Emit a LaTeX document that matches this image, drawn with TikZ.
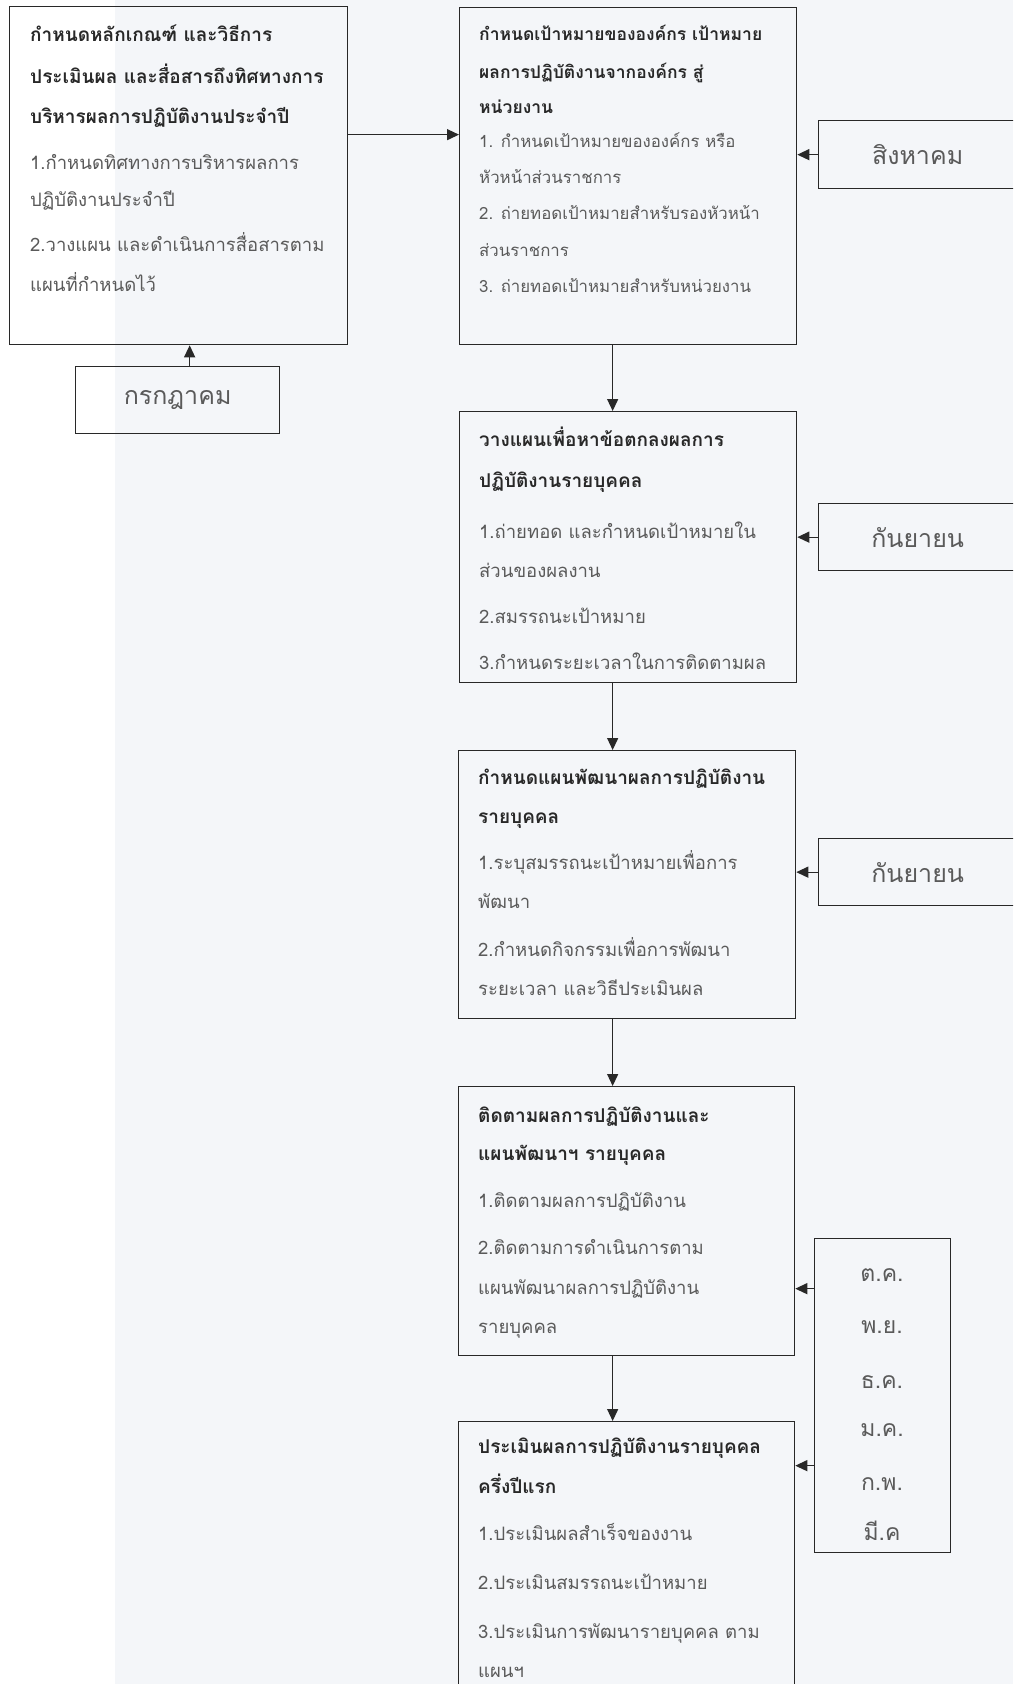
\documentclass[tikz,border=0pt]{standalone}
\usepackage{fontspec}
\newfontfamily\thai[Script=Thai]{Loma}
\usetikzlibrary{arrows.meta}
\definecolor{bgr}{RGB}{244,246,249}
\definecolor{linec}{RGB}{40,40,40}
\definecolor{ttlc}{RGB}{40,40,40}
\definecolor{itmc}{RGB}{90,90,90}
\begin{document}
\begin{tikzpicture}[x=1pt,y=-1pt,
  box/.style={draw=linec, line width=1.3pt, inner sep=0pt, anchor=north west},
  lbl/.style={box, font=\thai\fontsize{25}{30}\selectfont, text=itmc},
  ttl/.style={anchor=base west, inner sep=0pt, font=\thai\bfseries\fontsize{19}{22}\selectfont, text=ttlc},
  ttls/.style={ttl, font=\thai\bfseries\fontsize{17.5}{22}\selectfont},
  itm/.style={anchor=base west, inner sep=0pt, font=\thai\fontsize{18.5}{22}\selectfont, text=itmc},
  itms/.style={itm, font=\thai\fontsize{16.8}{20}\selectfont},
  mon/.style={anchor=base, inner sep=0pt, font=\thai\fontsize{23}{28}\selectfont, text=itmc},
  arr/.style={draw=linec, line width=1.3pt, -{Triangle[length=12pt,width=11pt]}}]
\useasboundingbox (0,0) rectangle (1013,1684);
\clip (0,0) rectangle (1013,1684);
\fill[white] (0,0) rectangle (1013,1684);
\fill[bgr] (115,0) rectangle (1013,1684);

% boxes
\node[box, minimum width=338pt, minimum height=338pt] (b1) at (9,6) {};
\node[box, minimum width=337pt, minimum height=337pt] (b2) at (459,7) {};
\node[box, minimum width=337pt, minimum height=271pt] (b3) at (459,411) {};
\node[box, minimum width=337pt, minimum height=268pt] (b4) at (458,750) {};
\node[box, minimum width=336pt, minimum height=269pt] (b5) at (458,1086) {};
\node[box, minimum width=336pt, minimum height=300pt] (b6) at (458,1421) {};
\node[lbl, minimum width=204pt, minimum height=67pt] (l1) at (75,366) {กรกฎาคม};
\node[lbl, minimum width=198pt, minimum height=68pt] (l2) at (818,120) {สิงหาคม};
\node[lbl, minimum width=198pt, minimum height=67pt] (l3) at (818,503) {กันยายน};
\node[lbl, minimum width=198pt, minimum height=67pt] (l4) at (818,838) {กันยายน};
\node[box, minimum width=136pt, minimum height=314pt] (m) at (814,1238) {};

% box 1
\foreach \yy/\txt [count=\i] in {35/กำหนดหลักเกณฑ์ และวิธีการ,77/ประเมินผล และสื่อสารถึงทิศทางการ,117/บริหารผลการปฏิบัติงานประจำปี}
  \node[ttl] (t1-\i) at (30,\yy+6) {\txt};
\foreach \yy/\txt [count=\i] in {163/1.กำหนดทิศทางการบริหารผลการ,200/ปฏิบัติงานประจำปี,245/2.วางแผน และดำเนินการสื่อสารตาม,285/แผนที่กำหนดไว้}
  \node[itm] (i1-\i) at (30,\yy+6) {\txt};

% box 2
\foreach \yy/\txt [count=\i] in {34/กำหนดเป้าหมายขององค์กร เป้าหมาย,72/ผลการปฏิบัติงานจากองค์กร สู่,107/หน่วยงาน}
  \node[ttls] (t2-\i) at (479,\yy+6) {\txt};
\foreach \yy/\txt [count=\i] in {142/1. กำหนดเป้าหมายขององค์กร หรือ,178/หัวหน้าส่วนราชการ,214/2. ถ่ายทอดเป้าหมายสำหรับรองหัวหน้า,251/ส่วนราชการ,287/3. ถ่ายทอดเป้าหมายสำหรับหน่วยงาน}
  \node[itms] (i2-\i) at (479,\yy+5.5) {\txt};

% box 3
\foreach \yy/\txt [count=\i] in {440/วางแผนเพื่อหาข้อตกลงผลการ,481/ปฏิบัติงานรายบุคคล}
  \node[ttl] (t3-\i) at (479,\yy+6) {\txt};
\foreach \yy/\txt [count=\i] in {532/1.ถ่ายทอด และกำหนดเป้าหมายใน,571/ส่วนของผลงาน,617/2.สมรรถนะเป้าหมาย,663/3.กำหนดระยะเวลาในการติดตามผล}
  \node[itm] (i3-\i) at (479,\yy+6) {\txt};

% box 4
\foreach \yy/\txt [count=\i] in {778/กำหนดแผนพัฒนาผลการปฏิบัติงาน,817/รายบุคคล}
  \node[ttl] (t4-\i) at (478,\yy+6) {\txt};
\foreach \yy/\txt [count=\i] in {863/1.ระบุสมรรถนะเป้าหมายเพื่อการ,902/พัฒนา,950/2.กำหนดกิจกรรมเพื่อการพัฒนา,989/ระยะเวลา และวิธีประเมินผล}
  \node[itm] (i4-\i) at (478,\yy+6) {\txt};

% box 5
\foreach \yy/\txt [count=\i] in {1116/ติดตามผลการปฏิบัติงานและ,1154/แผนพัฒนาฯ รายบุคคล}
  \node[ttl] (t5-\i) at (478,\yy+6) {\txt};
\foreach \yy/\txt [count=\i] in {1201/1.ติดตามผลการปฏิบัติงาน,1248/2.ติดตามการดำเนินการตาม,1288/แผนพัฒนาผลการปฏิบัติงาน,1327/รายบุคคล}
  \node[itm] (i5-\i) at (478,\yy+6) {\txt};

% box 6
\foreach \yy/\txt [count=\i] in {1447/ประเมินผลการปฏิบัติงานรายบุคคล,1487/ครึ่งปีแรก}
  \node[ttl] (t6-\i) at (478,\yy+6) {\txt};
\foreach \yy/\txt [count=\i] in {1534/1.ประเมินผลสำเร็จของงาน,1583/2.ประเมินสมรรถนะเป้าหมาย,1632/3.ประเมินการพัฒนารายบุคคล ตาม,1671/แผนฯ}
  \node[itm] (i6-\i) at (478,\yy+6) {\txt};

% months
\foreach \yy/\txt [count=\i] in {1273/ต.ค.,1325/พ.ย.,1380/ธ.ค.,1428/ม.ค.,1482/ก.พ.,1532/มี.ค}
  \node[mon] (m-\i) at (882,\yy+8) {\txt};

% connectors
\draw[arr] ([yshift=41pt]b1.east) -- ([yshift=41pt]b1.east -| b2.west);
\draw[arr] ([xshift=12pt]l1.north) -- ([xshift=12pt]l1.north |- b1.south);
\draw[arr] ([xshift=-15.5pt]b2.south) -- ([xshift=-15.5pt]b2.south |- b3.north);
\draw[arr] ([xshift=-15.5pt]b3.south) -- ([xshift=-15.5pt]b3.south |- b4.north);
\draw[arr] ([xshift=-14.5pt]b4.south) -- ([xshift=-14.5pt]b4.south |- b5.north);
\draw[arr] ([xshift=-14pt]b5.south) -- ([xshift=-14pt]b5.south |- b6.north);
\draw[arr] (l2.west) -- (l2.west -| b2.east);
\draw[arr] (l3.west) -- (l3.west -| b3.east);
\draw[arr] (l4.west) -- (l4.west -| b4.east);
\draw[arr] ([yshift=107pt]m.west) -- ([yshift=107pt]m.west -| b5.east);
\draw[arr] ([yshift=-70pt]m.west) -- ([yshift=-70pt]m.west -| b6.east);
\end{tikzpicture}
\end{document}
